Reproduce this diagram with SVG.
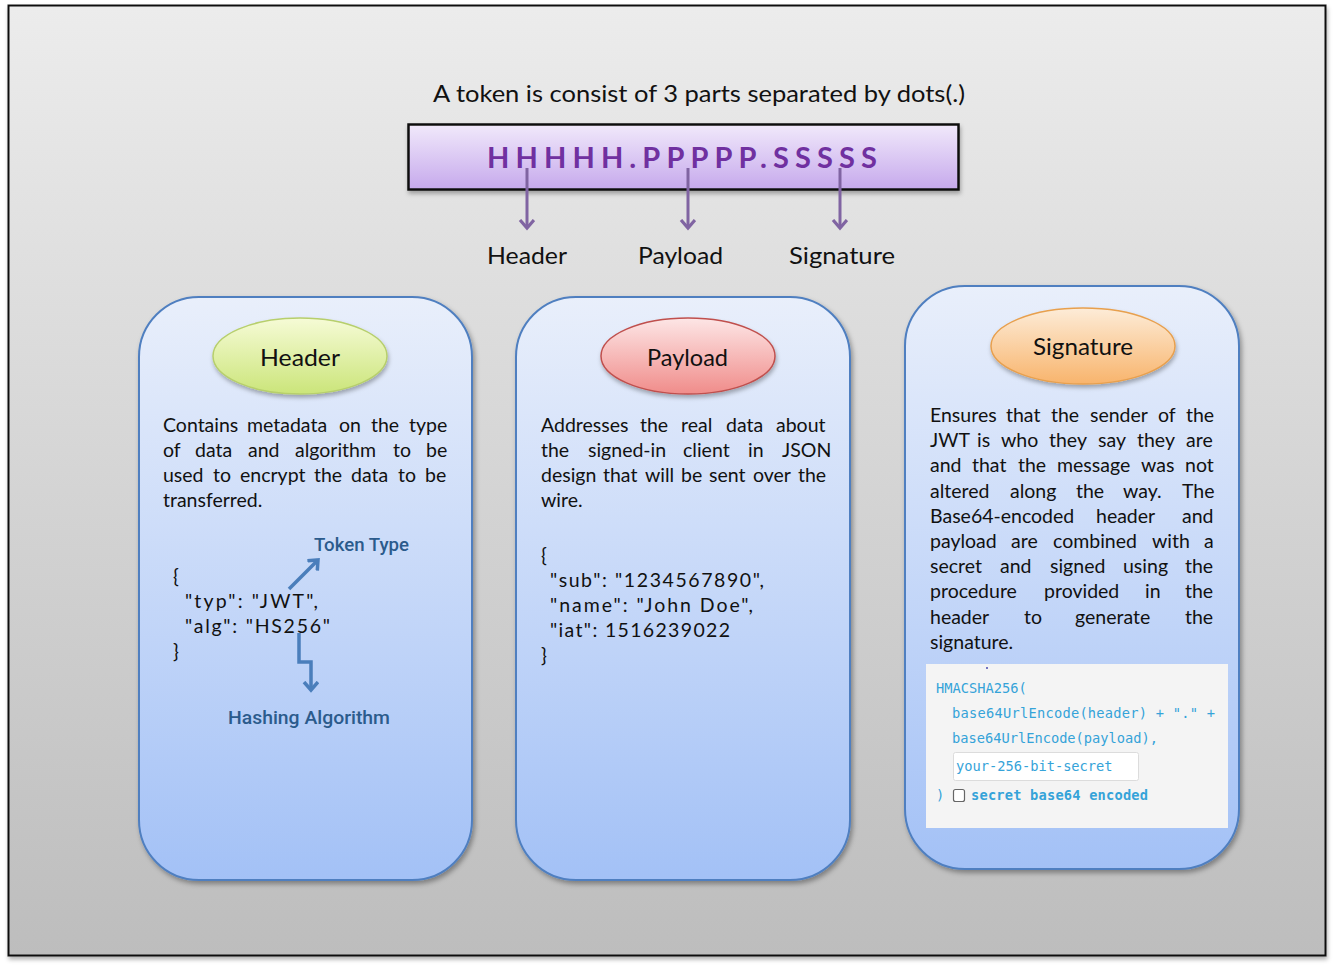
<svg xmlns="http://www.w3.org/2000/svg" width="1333" height="967" viewBox="0 0 1333 967">
<defs>
<linearGradient id="bg" x1="0" y1="0" x2="0" y2="1"><stop offset="0" stop-color="#ececec"/><stop offset="1" stop-color="#bdbdbd"/></linearGradient>
<linearGradient id="card" x1="0" y1="0" x2="0" y2="1"><stop offset="0" stop-color="#e9effb"/><stop offset="1" stop-color="#a3c1f6"/></linearGradient>
<linearGradient id="tok" x1="0" y1="0" x2="0" y2="1"><stop offset="0" stop-color="#f1e9fb"/><stop offset="1" stop-color="#c6a9ec"/></linearGradient>
<linearGradient id="gGreen" x1="0" y1="0" x2="0" y2="1"><stop offset="0" stop-color="#f6fbd6"/><stop offset="1" stop-color="#cbe57a"/></linearGradient>
<linearGradient id="gRed" x1="0" y1="0" x2="0" y2="1"><stop offset="0" stop-color="#fde6e6"/><stop offset="1" stop-color="#f08c8a"/></linearGradient>
<linearGradient id="gOrange" x1="0" y1="0" x2="0" y2="1"><stop offset="0" stop-color="#fdecd8"/><stop offset="1" stop-color="#f8b46c"/></linearGradient>
<filter id="sh" x="-10%" y="-10%" width="120%" height="120%"><feDropShadow dx="2" dy="3" stdDeviation="2.5" flood-color="#000" flood-opacity="0.35"/></filter>
<filter id="sh2" x="-10%" y="-20%" width="120%" height="140%"><feDropShadow dx="1" dy="3" stdDeviation="2" flood-color="#000" flood-opacity="0.3"/></filter>
<marker id="ap" markerUnits="userSpaceOnUse" markerWidth="18" markerHeight="18" refX="9" refY="8" orient="auto"><path d="M1,1 L9,8 L1,15" fill="none" stroke="#8064a2" stroke-width="3.2"/></marker>
<marker id="ab" markerUnits="userSpaceOnUse" markerWidth="18" markerHeight="18" refX="9" refY="8" orient="auto"><path d="M1,1 L9,8 L1,15" fill="none" stroke="#4a7ebb" stroke-width="3.5"/></marker>
</defs>
<style>
.t{font-family:Lato,"Open Sans",sans-serif;fill:#111}
.body{font-size:19.5px}
.lbl{font-size:24px}
.el{font-size:23px}
.note{font-family:Roboto,"Open Sans",sans-serif;font-size:19px;fill:#2b5b8c;font-weight:500}
.code{font-family:"DejaVu Sans Mono",monospace;font-size:13.7px;fill:#35a3d9}
.cardbox{fill:url(#card);stroke:#4f7fc0;stroke-width:2;filter:url(#sh)}
</style>

<rect x="8.5" y="5.5" width="1317" height="950" fill="url(#bg)" stroke="#111" stroke-width="2" filter="url(#sh2)"/>

<text class="t" x="433" y="102" font-size="23" textLength="532" lengthAdjust="spacingAndGlyphs">A token is consist of 3 parts separated by dots(.)</text>

<g id="token">
<rect x="408.5" y="124.5" width="550" height="65" fill="url(#tok)" stroke="#111" stroke-width="2.5" filter="url(#sh2)"/>
<text x="487" y="168" font-family="Lato,'Open Sans',sans-serif" font-size="29" font-weight="bold" fill="#7030a0" textLength="390" lengthAdjust="spacing">HHHHH.PPPPP.SSSSS</text>
</g>

<g id="labels">
<text class="t lbl" x="487" y="264" textLength="80" lengthAdjust="spacingAndGlyphs">Header</text>
<text class="t lbl" x="638" y="264" textLength="85" lengthAdjust="spacingAndGlyphs">Payload</text>
<text class="t lbl" x="789" y="264" textLength="106" lengthAdjust="spacingAndGlyphs">Signature</text>
</g>

<g id="header-card">
<rect class="cardbox" x="139" y="297" width="333" height="583" rx="60" ry="60"/>
<ellipse cx="300" cy="356" rx="87" ry="38" fill="url(#gGreen)" stroke="#b7cf6c" stroke-width="1.5" filter="url(#sh2)"/>
<text class="t el" x="260" y="366" textLength="80" lengthAdjust="spacingAndGlyphs">Header</text>
<text class="t body" y="432"><tspan x="163">Contains</tspan><tspan x="247">metadata</tspan><tspan x="339">on</tspan><tspan x="371">the</tspan><tspan x="409">type</tspan></text>
<text class="t body" y="457"><tspan x="163">of</tspan><tspan x="195">data</tspan><tspan x="248">and</tspan><tspan x="295">algorithm</tspan><tspan x="393">to</tspan><tspan x="426">be</tspan></text>
<text class="t body" y="482"><tspan x="163">used</tspan><tspan x="213">to</tspan><tspan x="240">encrypt</tspan><tspan x="314">the</tspan><tspan x="351">data</tspan><tspan x="398">to</tspan><tspan x="425">be</tspan></text>
<text class="t body" x="163" y="507">transferred.</text>
<text class="t body" x="173" y="583">{</text>
<text class="t body" x="185" y="608" textLength="133" lengthAdjust="spacing">"typ": "JWT",</text>
<text class="t body" x="185" y="633" textLength="145" lengthAdjust="spacing">"alg": "HS256"</text>
<text class="t body" x="173" y="658">}</text>
<text class="note" x="314" y="551" textLength="95" lengthAdjust="spacingAndGlyphs">Token Type</text>
<text class="note" x="228" y="724" textLength="162" lengthAdjust="spacingAndGlyphs">Hashing Algorithm</text>
</g>

<g id="payload-card">
<rect class="cardbox" x="516" y="297" width="334" height="583" rx="60" ry="60"/>
<ellipse cx="688" cy="356" rx="87" ry="38" fill="url(#gRed)" stroke="#c0504d" stroke-width="1.5" filter="url(#sh2)"/>
<text class="t el" x="647" y="366" textLength="81" lengthAdjust="spacingAndGlyphs">Payload</text>
<text class="t body" y="432"><tspan x="541">Addresses</tspan><tspan x="640">the</tspan><tspan x="681">real</tspan><tspan x="726">data</tspan><tspan x="776">about</tspan></text>
<text class="t body" y="457"><tspan x="541">the</tspan><tspan x="588">signed-in</tspan><tspan x="683">client</tspan><tspan x="748">in</tspan><tspan x="782">JSON</tspan></text>
<text class="t body" y="482"><tspan x="541">design</tspan><tspan x="603">that</tspan><tspan x="645">will</tspan><tspan x="681">be</tspan><tspan x="709">sent</tspan><tspan x="753">over</tspan><tspan x="798">the</tspan></text>
<text class="t body" x="541" y="507">wire.</text>
<text class="t body" x="541" y="562">{</text>
<text class="t body" x="550" y="587" textLength="214" lengthAdjust="spacing">"sub": "1234567890",</text>
<text class="t body" x="550" y="612" textLength="203" lengthAdjust="spacing">"name": "John Doe",</text>
<text class="t body" x="550" y="637" textLength="180" lengthAdjust="spacing">"iat": 1516239022</text>
<text class="t body" x="541" y="662">}</text>
</g>

<g id="signature-card">
<rect class="cardbox" x="905" y="286" width="334" height="583" rx="60" ry="60"/>
<ellipse cx="1083" cy="346" rx="92" ry="38" fill="url(#gOrange)" stroke="#e8a04e" stroke-width="1.5" filter="url(#sh2)"/>
<text class="t el" x="1033" y="355" textLength="100" lengthAdjust="spacingAndGlyphs">Signature</text>
<text class="t body" y="422"><tspan x="930">Ensures</tspan><tspan x="1006">that</tspan><tspan x="1051">the</tspan><tspan x="1090">sender</tspan><tspan x="1158">of</tspan><tspan x="1186">the</tspan></text>
<text class="t body" y="447"><tspan x="930">JWT</tspan><tspan x="977">is</tspan><tspan x="1001">who</tspan><tspan x="1049">they</tspan><tspan x="1098">say</tspan><tspan x="1137">they</tspan><tspan x="1186">are</tspan></text>
<text class="t body" y="472"><tspan x="930">and</tspan><tspan x="972">that</tspan><tspan x="1018">the</tspan><tspan x="1057">message</tspan><tspan x="1141">was</tspan><tspan x="1185">not</tspan></text>
<text class="t body" y="498"><tspan x="930">altered</tspan><tspan x="1010">along</tspan><tspan x="1076">the</tspan><tspan x="1123">way.</tspan><tspan x="1182">The</tspan></text>
<text class="t body" y="523"><tspan x="930">Base64-encoded</tspan><tspan x="1096">header</tspan><tspan x="1182">and</tspan></text>
<text class="t body" y="548"><tspan x="930">payload</tspan><tspan x="1011">are</tspan><tspan x="1053">combined</tspan><tspan x="1152">with</tspan><tspan x="1204">a</tspan></text>
<text class="t body" y="573"><tspan x="930">secret</tspan><tspan x="1000">and</tspan><tspan x="1050">signed</tspan><tspan x="1123">using</tspan><tspan x="1185">the</tspan></text>
<text class="t body" y="598"><tspan x="930">procedure</tspan><tspan x="1044">provided</tspan><tspan x="1145">in</tspan><tspan x="1185">the</tspan></text>
<text class="t body" y="624"><tspan x="930">header</tspan><tspan x="1024">to</tspan><tspan x="1075">generate</tspan><tspan x="1185">the</tspan></text>
<text class="t body" x="930" y="649">signature.</text>
<rect x="926" y="664" width="302" height="164" fill="#f4f4f4"/>
<circle cx="987" cy="668" r="1" fill="#4a4ab0"/>
<text class="code" x="936" y="693">HMACSHA256(</text>
<text class="code" x="952" y="718" textLength="263" lengthAdjust="spacing">base64UrlEncode(header) + "." +</text>
<text class="code" x="952" y="743">base64UrlEncode(payload),</text>
<rect x="953.5" y="752.5" width="185" height="28" rx="2" fill="#fff" stroke="#dcdcdc"/>
<text class="code" x="956" y="771">your-256-bit-secret</text>
<text class="code" x="936" y="800">)</text>
<rect x="953.5" y="789.5" width="11" height="12" rx="2" fill="#fff" stroke="#666" stroke-width="1.2"/>
<text class="code" x="971" y="800" font-weight="bold" textLength="177" lengthAdjust="spacing">secret base64 encoded</text>
</g>

<g id="connectors" fill="none">
<line x1="527" y1="168" x2="527" y2="228" stroke="#8064a2" stroke-width="3" marker-end="url(#ap)"/>
<line x1="688" y1="168" x2="688" y2="228" stroke="#8064a2" stroke-width="3" marker-end="url(#ap)"/>
<line x1="840" y1="168" x2="840" y2="228" stroke="#8064a2" stroke-width="3" marker-end="url(#ap)"/>
<line x1="289" y1="589" x2="318" y2="560" stroke="#4a7ebb" stroke-width="3.5" marker-end="url(#ab)"/>
<path d="M299,633 V662 H311 V690" stroke="#4a7ebb" stroke-width="3.5" marker-end="url(#ab)"/>
</g>
</svg>
